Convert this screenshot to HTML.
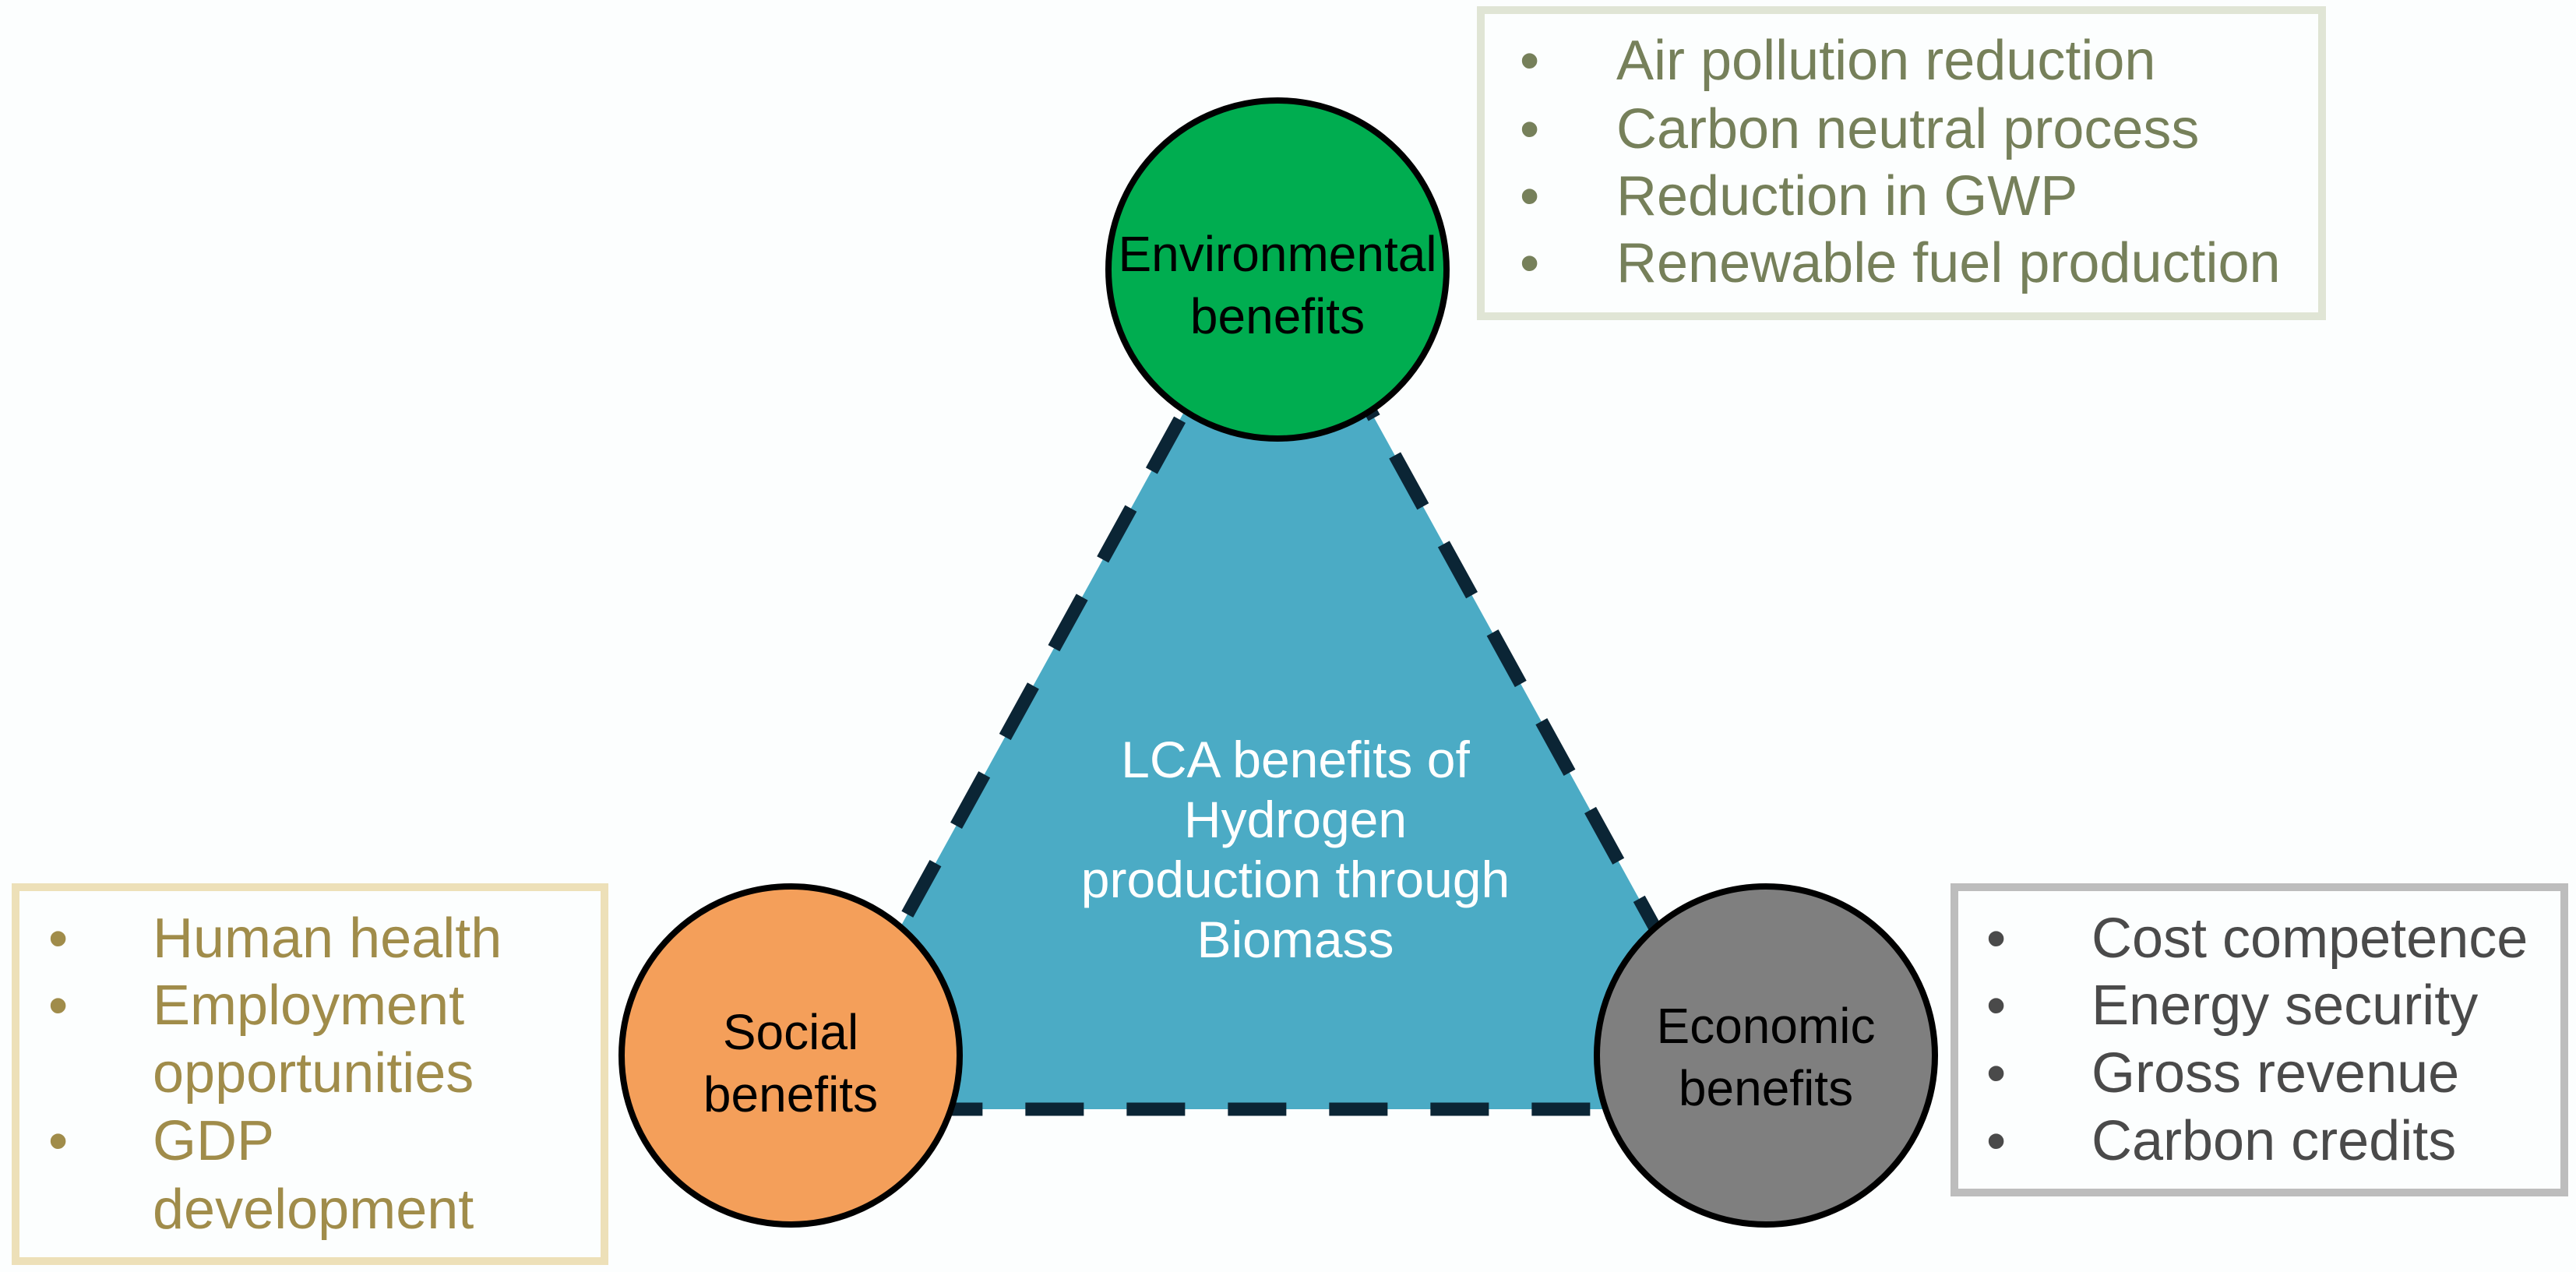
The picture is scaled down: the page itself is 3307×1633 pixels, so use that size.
<!DOCTYPE html>
<html><head><meta charset="utf-8"><style>
html,body{margin:0;padding:0;background:#fcfefe;}
svg{display:block;}
text{font-family:"Liberation Sans",Arial,sans-serif;}
</style></head><body>
<svg width="3307" height="1633" viewBox="0 0 3307 1633" xmlns="http://www.w3.org/2000/svg">
<rect width="3307" height="1633" fill="#fcfefe"/>
<!-- triangle -->
<polygon points="1640,311 1027,1424 2253,1424" fill="#4babc5"/>
<polygon points="1640,311 1027,1424 2253,1424" fill="none" stroke="#0b2535" stroke-width="17" stroke-dasharray="75,55"/>
<g fill="#ffffff" font-size="66" text-anchor="middle">
<text x="1663" y="998">LCA benefits of</text>
<text x="1663" y="1075">Hydrogen</text>
<text x="1663" y="1152">production through</text>
<text x="1663" y="1229">Biomass</text>
</g>
<!-- circles -->
<circle cx="1640" cy="346" r="217" fill="#00ad50" stroke="#000" stroke-width="8"/>
<circle cx="1015" cy="1355" r="217" fill="#f49f5a" stroke="#000" stroke-width="8"/>
<circle cx="2267" cy="1355" r="217" fill="#7f7f7f" stroke="#000" stroke-width="8"/>
<g fill="#000" font-size="64" text-anchor="middle">
<text x="1640" y="348">Environmental</text>
<text x="1640" y="428">benefits</text>
<text x="1015" y="1347">Social</text>
<text x="1015" y="1427">benefits</text>
<text x="2267" y="1339">Economic</text>
<text x="2267" y="1419">benefits</text>
</g>
<!-- env box -->
<rect x="1901" y="13" width="1080" height="393" fill="none" stroke="#e0e5d5" stroke-width="10"/>
<g fill="#76805a" font-size="72">
<text x="1951" y="102">•</text><text x="2075" y="102">Air pollution reduction</text>
<text x="1951" y="190">•</text><text x="2075" y="190">Carbon neutral process</text>
<text x="1951" y="276">•</text><text x="2075" y="276">Reduction in GWP</text>
<text x="1951" y="362">•</text><text x="2075" y="362">Renewable fuel production</text>
</g>
<!-- social box -->
<rect x="20" y="1139" width="756" height="480" fill="none" stroke="#ede0b8" stroke-width="10"/>
<g fill="#a08c4a" font-size="72">
<text x="62" y="1229">•</text><text x="196" y="1229">Human health</text>
<text x="62" y="1315">•</text><text x="196" y="1315">Employment</text>
<text x="196" y="1402">opportunities</text>
<text x="62" y="1489">•</text><text x="196" y="1489">GDP</text>
<text x="196" y="1577">development</text>
</g>
<!-- econ box -->
<rect x="2509" y="1139" width="783" height="392" fill="none" stroke="#bdbdbd" stroke-width="10"/>
<g fill="#4a4a4a" font-size="72">
<text x="2550" y="1229">•</text><text x="2685" y="1229">Cost competence</text>
<text x="2550" y="1315">•</text><text x="2685" y="1315">Energy security</text>
<text x="2550" y="1402">•</text><text x="2685" y="1402">Gross revenue</text>
<text x="2550" y="1489">•</text><text x="2685" y="1489">Carbon credits</text>
</g>
</svg>
</body></html>
